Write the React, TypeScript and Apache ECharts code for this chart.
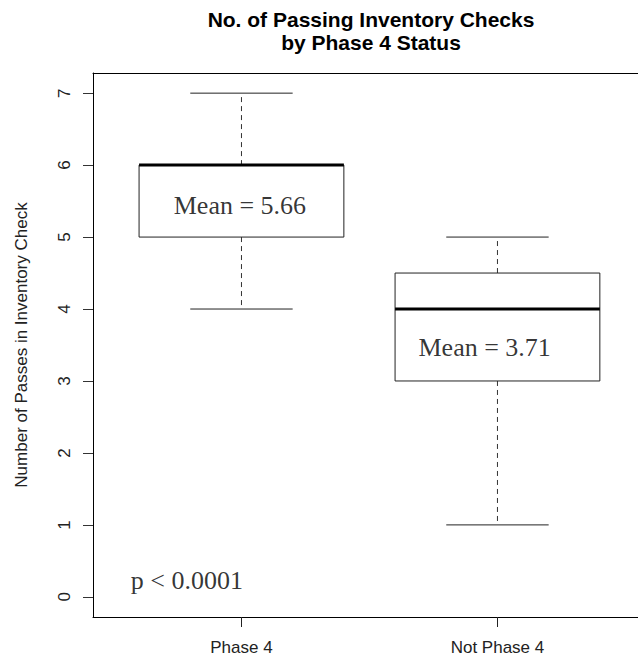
import React, { useEffect, useRef } from "react";
import * as echarts from "echarts";

const categories = ["Phase 4", "Not Phase 4"];
const whiskerLow = [4, 1];
const quartile1 = [5, 3];
const medians = [6, 4];
const quartile3 = [6, 4.5];
const whiskerHigh = [7, 5];
const outliers: [number, number][] = [[1, 3]];
const yTicks = [0, 1, 2, 3, 4, 5, 6, 7];
const xTicks = [1, 2];
const meanTexts = ["Mean = 5.66", "Mean = 3.71"];
const meanAnchors: [number, number][] = [[0.994, 5.432], [1.95, 3.465]];
const pText = "p < 0.0001";
const pAnchor: [number, number] = [0.787, 0.229];

const SANS = "'Liberation Sans', Arial, sans-serif";
const SERIF = "'Liberation Serif', 'Times New Roman', serif";

const X_MIN = 0.42;
const X_MAX = 2.549;
const Y_MIN = -0.28;
const Y_MAX = 7.28;

export default function App() {
  const ref = useRef<HTMLDivElement>(null);
  useEffect(() => {
    document.body.style.margin = "0";
    const chart = echarts.init(ref.current!, null, { renderer: "svg" });
    const boxData = categories.map((_, i) => [
      i + 1,
      whiskerLow[i],
      quartile1[i],
      medians[i],
      quartile3[i],
      whiskerHigh[i],
    ]);
    const frameLine = { show: true, onZero: false, lineStyle: { color: "#000", width: 1 } };
    const option: any = {
      animation: false,
      backgroundColor: "#fff",
      title: {
        text: "No. of Passing Inventory Checks\nby Phase 4 Status",
        left: 366,
        top: 3,
        textAlign: "center",
        textStyle: {
          fontFamily: SANS,
          fontSize: 21,
          fontWeight: "bold",
          lineHeight: 23,
          color: "#000",
        },
      },
      grid: {
        left: 93,
        top: 73,
        right: 0,
        bottom: 43,
        show: false,
      },
      xAxis: [
        {
          type: "value",
          position: "bottom",
          min: X_MIN,
          max: X_MAX,
          axisLine: frameLine,
          splitLine: { show: false },
          axisTick: {
            show: true,
            inside: false,
            length: 10,
            customValues: xTicks,
            lineStyle: { color: "#222", width: 1 },
          },
          axisLabel: {
            customValues: xTicks,
            formatter: (v: number) => categories[Math.round(v) - 1] ?? "",
            margin: 22,
            fontFamily: SANS,
            fontSize: 17,
            color: "#222",
          },
        },
        {
          type: "value",
          position: "top",
          min: X_MIN,
          max: X_MAX,
          axisLine: frameLine,
          splitLine: { show: false },
          axisTick: { show: false },
          axisLabel: { show: false },
        },
      ],
      yAxis: {
        type: "value",
        min: Y_MIN,
        max: Y_MAX,
        name: "Number of Passes in Inventory Check",
        nameLocation: "middle",
        nameGap: 63,
        nameTextStyle: { fontFamily: SANS, fontSize: 17, color: "#222" },
        axisLine: frameLine,
        splitLine: { show: false },
        axisTick: {
          show: true,
          length: 10,
          customValues: yTicks,
          lineStyle: { color: "#333", width: 1 },
        },
        axisLabel: {
          customValues: yTicks,
          rotate: 90,
          margin: 20,
          fontFamily: SANS,
          fontSize: 17,
          color: "#222",
        },
      },
      series: [
        {
          type: "custom",
          data: boxData,
          renderItem: (params: any, api: any) => {
            const x = api.value(0);
            const lo = api.value(1);
            const q1 = api.value(2);
            const med = api.value(3);
            const q3 = api.value(4);
            const hi = api.value(5);
            const half = api.size([0.8, 0])[0] / 2;
            const capHalf = api.size([0.4, 0])[0] / 2;
            const pLo = api.coord([x, lo]);
            const pQ1 = api.coord([x, q1]);
            const pMed = api.coord([x, med]);
            const pQ3 = api.coord([x, q3]);
            const pHi = api.coord([x, hi]);
            const cx = pLo[0];
            const thin = { stroke: "#222", lineWidth: 1 };
            const dashed = { stroke: "#333", lineWidth: 1, lineDash: [5, 4] };
            return {
              type: "group",
              children: [
                {
                  type: "line",
                  shape: { x1: cx, y1: pQ3[1], x2: cx, y2: pHi[1] },
                  style: dashed,
                },
                {
                  type: "line",
                  shape: { x1: cx, y1: pQ1[1], x2: cx, y2: pLo[1] },
                  style: dashed,
                },
                {
                  type: "line",
                  shape: { x1: cx - capHalf, y1: pHi[1], x2: cx + capHalf, y2: pHi[1] },
                  style: thin,
                },
                {
                  type: "line",
                  shape: { x1: cx - capHalf, y1: pLo[1], x2: cx + capHalf, y2: pLo[1] },
                  style: thin,
                },
                {
                  type: "rect",
                  shape: {
                    x: cx - half,
                    y: pQ3[1],
                    width: half * 2,
                    height: pQ1[1] - pQ3[1],
                  },
                  style: { fill: "#fff", stroke: "#222", lineWidth: 1 },
                },
                {
                  type: "line",
                  shape: { x1: cx - half, y1: pMed[1], x2: cx + half, y2: pMed[1] },
                  style: { stroke: "#000", lineWidth: 3 },
                },
              ],
            };
          },
          z: 2,
        },
        {
          type: "scatter",
          data: outliers,
          symbol: "emptyCircle",
          symbolSize: 7,
          itemStyle: { color: "#fff", borderColor: "#222", borderWidth: 1 },
          z: 3,
        },
        {
          type: "scatter",
          data: meanAnchors.map((a, i) => ({ value: a, name: meanTexts[i] })),
          symbolSize: 1,
          itemStyle: { color: "transparent" },
          label: {
            show: true,
            position: "inside",
            formatter: (p: any) => p.name,
            fontFamily: SERIF,
            fontSize: 26,
            color: "#000",
          },
          z: 4,
        },
        {
          type: "scatter",
          data: [{ value: pAnchor, name: pText }],
          symbolSize: 1,
          itemStyle: { color: "transparent" },
          label: {
            show: true,
            position: "inside",
            formatter: (p: any) => p.name,
            fontFamily: SERIF,
            fontSize: 26,
            color: "#000",
          },
          z: 4,
        },
      ],
    };
    chart.setOption(option);
    return () => chart.dispose();
  }, []);
  return (
    <div
      ref={ref}
      style={{ position: "absolute", left: 0, top: 0, width: 638, height: 660 }}
    />
  );
}
